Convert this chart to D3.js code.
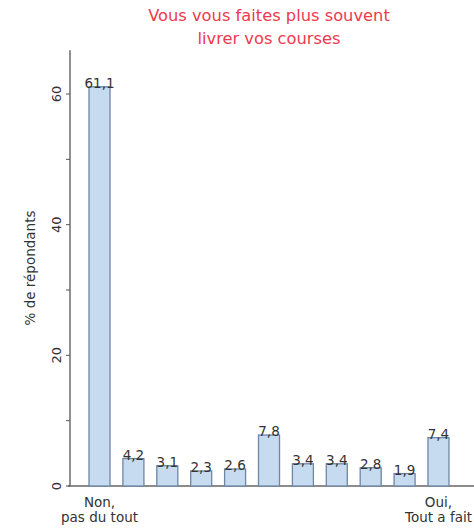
<!DOCTYPE html>
<html><head><meta charset="utf-8">
<script src="https://cdn.jsdelivr.net/npm/d3@7"></script>
<style>body{margin:0;background:#fff;}svg{display:block;font-family:"DejaVu Sans",Verdana,sans-serif;}</style>
</head><body>
<svg id="c" width="474" height="528"></svg>
<script>
const categories = ["1","2","3","4","5","6","7","8","9","10","11"];
const values = [61.1, 4.2, 3.1, 2.3, 2.6, 7.8, 3.4, 3.4, 2.8, 1.9, 7.4];
const yTicks = [0, 20, 40, 60];
const yMinorTicks = [10, 30, 50];
const titleLines = ["Vous vous faites plus souvent", "livrer vos courses"];
const xEndLabels = [["Non,", "pas du tout"], ["Oui,", "Tout a fait"]];
const yLabel = "% de répondants";

const svg = d3.select("#c");
const x = d3.scaleBand().domain(categories).range([89, 449]).paddingInner(0.38).paddingOuter(0);
const y = d3.scaleLinear().domain([0, 60]).range([486, 94]);
const fmt = v => d3.format(".1f")(v).replace(".", ",");

// title
svg.append("g").selectAll("text").data(titleLines).join("text")
  .attr("x", 269).attr("y", (d,i) => 21 + i*23)
  .attr("text-anchor", "middle").attr("font-size", 16.3).attr("fill", "#ee3a4e")
  .text(d => d);

// y axis line
svg.append("line").attr("x1", 70).attr("x2", 70).attr("y1", y(66.7)).attr("y2", y(0))
  .attr("stroke", "#555").attr("stroke-width", 1.3);
// x baseline
svg.append("line").attr("x1", 68).attr("x2", 474).attr("y1", y(0)).attr("y2", y(0))
  .attr("stroke", "#666").attr("stroke-width", 1.3);

// ticks
svg.append("g").selectAll("line").data(yTicks.concat(yMinorTicks)).join("line")
  .attr("x1", 66).attr("x2", 70).attr("y1", d => y(d)).attr("y2", d => y(d))
  .attr("stroke", "#555");
svg.append("g").selectAll("text").data(yTicks).join("text")
  .attr("transform", d => `translate(61,${y(d)}) rotate(-90)`)
  .attr("text-anchor", "middle").attr("font-size", 13).attr("fill", "#333")
  .text(d => d);

// y label
svg.append("text").attr("transform", `translate(35,268) rotate(-90)`)
  .attr("text-anchor", "middle").attr("font-size", 13.5).attr("fill", "#333").text(yLabel);

// bars
svg.append("g").selectAll("rect").data(values).join("rect")
  .attr("x", (d,i) => x(categories[i])).attr("width", x.bandwidth())
  .attr("y", d => y(d)).attr("height", d => y(0) - y(d))
  .attr("fill", "#c6daf0").attr("stroke", "#6d87a6").attr("stroke-width", 1.3);

// value labels
svg.append("g").selectAll("text").data(values).join("text")
  .attr("x", (d,i) => x(categories[i]) + x.bandwidth()/2).attr("y", d => y(d) + 1)
  .attr("text-anchor", "middle").attr("font-size", 13.5).attr("fill", "#333")
  .text(d => fmt(d));

// x end labels
const ends = [categories[0], categories[categories.length-1]];
ends.forEach((c, k) => {
  const cx = x(c) + x.bandwidth()/2;
  svg.append("g").selectAll("text").data(xEndLabels[k]).join("text")
    .attr("x", cx).attr("y", (d,i) => 507 + i*15)
    .attr("text-anchor", "middle").attr("font-size", 13.5).attr("fill", "#333")
    .text(d => d);
});
</script>
</body></html>
